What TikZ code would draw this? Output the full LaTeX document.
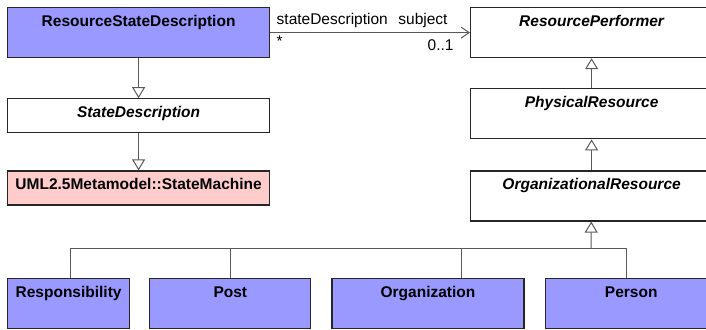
\documentclass[tikz,border=0pt]{standalone}
\usepackage{fontspec}
\setmainfont{Liberation Sans}
\usetikzlibrary{arrows.meta, positioning}
\definecolor{ClassBlue}{RGB}{153,153,255}
\definecolor{UmlPink}{RGB}{255,204,204}

\begin{document}
\begin{tikzpicture}[x=1pt, y=-1pt,
			node distance=20pt,
			cls/.style={rectangle, draw=black!85, line width=1.2pt, fill=white,
				text height=11pt, inner xsep=2pt, inner ysep=7.5pt, align=center,
				font=\fontsize{15.5}{18}\selectfont\bfseries},
			tall/.style={text depth=24pt},
			short/.style={text depth=8pt},
			abstract/.style={font=\fontsize{15.5}{18}\selectfont\bfseries\itshape},
			line/.style={draw=black!65, line width=1pt},
			assoc/.style={line, -{Straight Barb[length=8pt, width=11pt]}},
			gen/.style={line, -{Triangle[open, length=11pt, width=13pt]}},
			lbl/.style={font=\fontsize{15.5}{18}\selectfont, inner sep=0pt}
			]
			\useasboundingbox (0,0) rectangle (706,329);
			\clip (0,0) rectangle (706,329);
			
			% left column
			\node[cls, tall, fill=ClassBlue, minimum width=262pt, anchor=north west] (rsd) at (7,7) {ResourceStateDescription};
			\node[cls, short, abstract, minimum width=262pt, below=40pt of rsd] (statedesc) {StateDescription};
			\node[cls, short, fill=UmlPink, minimum width=262pt, below=37pt of statedesc] (statemachine) {UML2.5Metamodel::StateMachine};
			
			% right column
			\node[cls, tall, abstract, minimum width=242pt, anchor=north west] (performer) at (470,7) {ResourcePerformer};
			\node[cls, tall, abstract, minimum width=242pt, below=30pt of performer] (physical) {PhysicalResource};
			\node[cls, tall, abstract, minimum width=242pt, below=31pt of physical] (orgres) {OrganizationalResource};
			
			% bottom row
			\node[cls, tall, fill=ClassBlue, minimum width=122pt, anchor=north west] (resp) at (7,278) {Responsibility};
			\node[cls, tall, fill=ClassBlue, minimum width=161pt, right=19pt of resp] (post) {Post};
			\node[cls, tall, fill=ClassBlue, minimum width=192pt, right=20pt of post] (orga) {Organization};
			\node[cls, tall, fill=ClassBlue, minimum width=172pt, right=20pt of orga] (person) {Person};
			\coordinate (bus) at (591,248);
			
			\draw[assoc] (rsd) -- (performer)
				node[lbl, pos=0, anchor=base west, xshift=6pt, yshift=8pt] {stateDescription}
				node[lbl, pos=0, anchor=north west, xshift=6pt, yshift=-3pt] {*}
				node[lbl, pos=1, anchor=base east, xshift=-22pt, yshift=8pt] {subject}
				node[lbl, pos=1, anchor=base east, xshift=-16pt, yshift=-18pt] {0..1};
			\draw[gen] (rsd) -- (statedesc);
			\draw[gen] (statedesc) -- (statemachine);
			\draw[gen] (physical) -- (performer);
			\draw[gen] (orgres) -- (physical);
			\draw[gen] (bus) -- (orgres);
			\draw[line] ([xshift=2pt]resp.north) |- (bus);
			\draw[line] (post.north) |- (bus);
			\draw[line] ([xshift=33pt]orga.north) |- (bus);
			\draw[line] ([xshift=-5pt]person.north) |- (bus);
		\end{tikzpicture}
\end{document}
